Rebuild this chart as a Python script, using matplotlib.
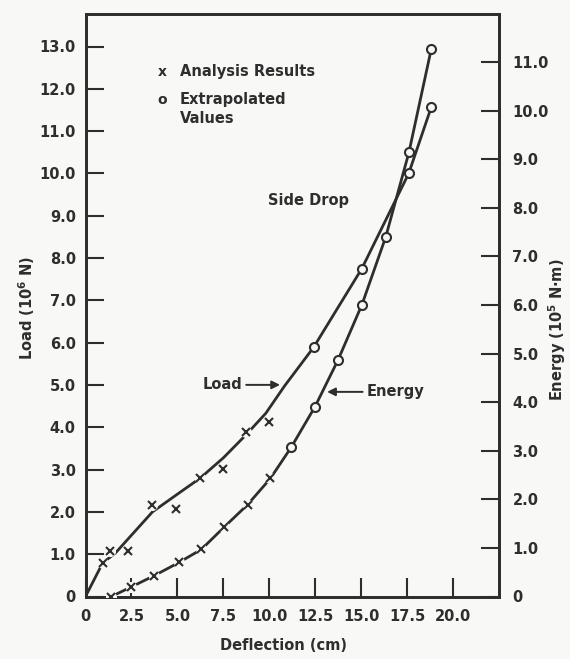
import matplotlib
matplotlib.use('Agg')
import matplotlib.pyplot as plt

plt.rcParams['font.family'] = ['DejaVu Sans']
plt.rcParams['font.weight'] = 'bold'

INK = '#2e2e2e'
BG = '#f8f8f6'

# ---- data: deflection (cm), load (10^6 N), energy (10^5 N·m) ----
load_analysis_x = [0.93, 1.35, 2.31, 3.64, 4.92, 6.20, 7.46, 8.71, 9.97]
load_analysis_y = [0.79, 1.08, 1.07, 2.17, 2.06, 2.80, 3.01, 3.88, 4.13]
load_extrap_x = [12.40, 15.02, 17.57, 18.79]
load_extrap_y = [5.89, 7.75, 10.00, 11.56]
# hand-faired load curve through the analysis region
load_curve_x = [0.0, 0.93, 1.63, 3.64, 5.0, 6.24, 7.5, 8.70, 9.8, 10.81]
load_curve_y = [0.0, 0.79, 1.03, 2.00, 2.42, 2.80, 3.28, 3.81, 4.33, 4.97]

energy_analysis_x = [1.41, 2.45, 3.74, 5.08, 6.30, 7.54, 8.81, 10.05]
energy_analysis_y = [0.0, 0.19, 0.43, 0.70, 0.97, 1.43, 1.89, 2.43]
energy_extrap_x = [11.18, 12.48, 13.73, 15.03, 16.32, 17.58, 18.79]
energy_extrap_y = [3.07, 3.91, 4.87, 6.01, 7.40, 9.14, 11.26]

x_ticks = [0, 2.5, 5.0, 7.5, 10.0, 12.5, 15.0, 17.5, 20.0]
x_tick_labels = ['0', '2.5', '5.0', '7.5', '10.0', '12.5', '15.0', '17.5', '20.0']
load_ticks = list(range(0, 14))
load_tick_labels = ['0'] + [f'{v:.1f}' for v in range(1, 14)]
energy_ticks = list(range(0, 12))
energy_tick_labels = ['0'] + [f'{v:.1f}' for v in range(1, 12)]

fig = plt.figure(figsize=(5.70, 6.59), dpi=100, facecolor=BG)
ax = fig.add_axes([85.5 / 570, (659 - 596.5) / 659, 413 / 570, 583 / 659])
ax.set_facecolor(BG)
ax2 = ax.twinx()

# load curve
ax.plot(load_curve_x + load_extrap_x, load_curve_y + load_extrap_y,
        color=INK, lw=2.0, zorder=2, solid_capstyle='round', solid_joinstyle='round')
ax.plot(load_analysis_x, load_analysis_y, 'o', ms=8, mfc=BG, mec='none', zorder=3)
ax.plot(load_analysis_x, load_analysis_y, 'x', ms=6, mew=1.5, color=INK, zorder=4)
ax.plot(load_extrap_x, load_extrap_y, 'o', ms=6.5, mew=1.5, mfc=BG, mec=INK, zorder=4)

# energy curve
ax2.plot(energy_analysis_x + energy_extrap_x, energy_analysis_y + energy_extrap_y,
         color=INK, lw=2.0, zorder=2, solid_capstyle='round', solid_joinstyle='round')
ax2.plot(energy_analysis_x, energy_analysis_y, 'o', ms=8, mfc=BG, mec='none', zorder=3)
ax2.plot(energy_analysis_x, energy_analysis_y, 'x', ms=6, mew=1.5, color=INK, zorder=4)
ax2.plot(energy_extrap_x, energy_extrap_y, 'o', ms=6.5, mew=1.5, mfc=BG, mec=INK, zorder=4)

ax.set_xlim(0, 22.45)
ax.set_ylim(0, 13.78)
ax2.set_ylim(0, 12.0)

ax.set_xticks(x_ticks)
ax.set_xticklabels(x_tick_labels)
ax.set_yticks(load_ticks)
ax.set_yticklabels(load_tick_labels)
ax2.set_yticks(energy_ticks)
ax2.set_yticklabels(energy_tick_labels)

ax.tick_params(axis='x', direction='in', length=14, width=1.5, pad=9,
               labelsize=10.5, colors=INK, top=False)
ax.tick_params(axis='y', direction='in', length=13, width=1.5, pad=7,
               labelsize=10.5, colors=INK, right=False)
ax2.tick_params(axis='y', direction='in', length=13, width=1.5, pad=10,
                labelsize=10.5, colors=INK)
for a in (ax, ax2):
    for s in a.spines.values():
        s.set_color(INK)
        s.set_linewidth(2.0)
    for lab in a.get_xticklabels() + a.get_yticklabels():
        lab.set_fontweight('bold')

# legend-like text
ax.text(0.185, 0.900, 'x', transform=ax.transAxes, ha='center', va='center',
        fontsize=10, color=INK)
ax.text(0.228, 0.900, 'Analysis Results', transform=ax.transAxes, ha='left',
        va='center', fontsize=10.5, color=INK)
ax.text(0.185, 0.852, 'o', transform=ax.transAxes, ha='center', va='center',
        fontsize=10, color=INK)
ax.text(0.228, 0.866, 'Extrapolated\nValues', transform=ax.transAxes, ha='left',
        va='top', fontsize=10.5, color=INK, linespacing=1.4)
ax.text(0.442, 0.680, 'Side Drop', transform=ax.transAxes, ha='left',
        va='center', fontsize=10.5, color=INK)

arrow = dict(arrowstyle='-|>', color=INK, lw=1.4, mutation_scale=12,
             shrinkA=1, shrinkB=0)
ax.annotate('Load', xy=(0.471, 0.363), xytext=(0.379, 0.363),
            xycoords='axes fraction', textcoords='axes fraction',
            ha='right', va='center', fontsize=10.5, color=INK, arrowprops=arrow)
ax.annotate('Energy', xy=(0.585, 0.351), xytext=(0.681, 0.351),
            xycoords='axes fraction', textcoords='axes fraction',
            ha='left', va='center', fontsize=10.5, color=INK, arrowprops=arrow)

fig.text(27 / 570, 1 - 308 / 659, 'Load (10$^{\\mathbf{6}}$ N)', rotation=90,
         ha='center', va='center', fontsize=10.5, color=INK)
fig.text(557 / 570, 1 - 330 / 659, 'Energy (10$^{\\mathbf{5}}$ N·m)', rotation=90,
         ha='center', va='center', fontsize=10.5, color=INK)
fig.text(220 / 570, 1 - 646 / 659, 'Deflection (cm)', ha='left', va='center',
         fontsize=10.5, color=INK)

fig.savefig('out.png', dpi=100, facecolor=BG)
